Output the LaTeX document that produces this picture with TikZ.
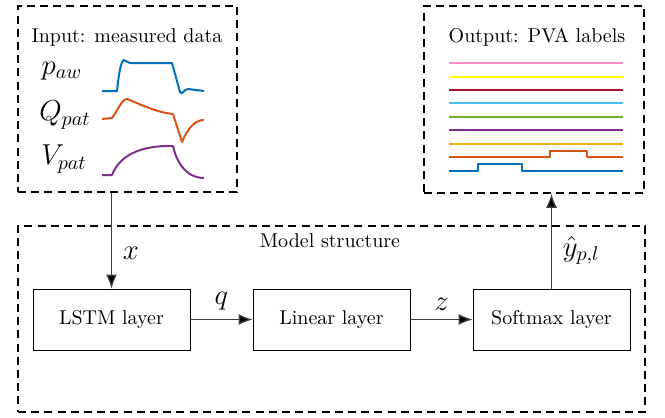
\documentclass[tikz,border=0pt]{standalone}
\usetikzlibrary{arrows.meta}
\definecolor{mblue}{RGB}{0,114,189}
\definecolor{morange}{RGB}{217,83,25}
\definecolor{myellow}{RGB}{237,177,32}
\definecolor{mpurple}{RGB}{126,47,142}
\definecolor{mgreen}{RGB}{119,172,48}
\definecolor{mcyan}{RGB}{77,190,238}
\definecolor{mred}{RGB}{162,20,47}
\definecolor{ylw}{RGB}{255,255,0}
\definecolor{mpink}{RGB}{255,140,200}
\begin{document}
\begin{tikzpicture}[x=0.5pt,y=-0.5pt,
  frame/.style={draw,thick,dash pattern=on 4pt off 2.6pt},
  layerbox/.style={draw,minimum width=78.5pt,minimum height=30.5pt,inner sep=0pt},
  flow/.style={-{Latex[length=7pt,width=5.5pt,fill=black]},line width=0.6pt,draw=black!75},
  sig/.style={line width=1pt,line join=round},
  lab/.style={font=\Large}]
\useasboundingbox (0,0) rectangle (665,418);
% frames
\node[frame,minimum width=109.5pt,minimum height=93pt,inner sep=0pt] (inbox) at (127.5,99) {};
\node[frame,minimum width=110pt,minimum height=93.5pt,inner sep=0pt] (outbox) at (534,99.5) {};
\node[frame,minimum width=313.5pt,minimum height=93pt,inner sep=0pt] (modelbox) at (331.5,319) {};
% titles
\node (intitle) at (127,37) {Input: measured data};
\node (outtitle) at (537,37) {Output: PVA labels};
\node (mtitle) at (330,241) {Model structure};
% input labels
\node[lab] (paw) at (62,71) {$p_{aw}$};
\node[lab] (qpat) at (65,115) {$Q_{pat}$};
\node[lab] (vpat) at (64,159) {$V_{pat}$};
% input signals
\draw[sig,mblue] (102,91) -- (117,91) .. controls (119,72) and (121,61) .. (124,60) .. controls (126,60) and (127,63) .. (130,63) -- (172,63) -- (180,92) .. controls (182,96) and (184,89) .. (188,89) -- (204,91);
\draw[sig,morange] (102,119) -- (112,118) .. controls (118,110) and (122,99) .. (127,99) .. controls (140,104) and (155,112) .. (173,114) -- (182,142) .. controls (188,128) and (195,120) .. (204,120);
\draw[sig,mpurple] (102,175) -- (112,175) .. controls (120,155) and (140,147) .. (165,146) -- (173,146) .. controls (176,160) and (185,178) .. (204,178);
% output lines
\draw[sig,mpink] (449,63) -- (623,63);
\draw[sig,ylw] (449,77) -- (623,77);
\draw[sig,mred] (449,90) -- (623,90);
\draw[sig,mcyan] (449,103) -- (623,103);
\draw[sig,mgreen] (449,117) -- (623,117);
\draw[sig,mpurple] (449,130) -- (623,130);
\draw[sig,myellow] (449,144) -- (623,144);
\draw[sig,morange] (449,157) -- (550,157) -- (550,151) -- (587,151) -- (587,157) -- (623,157);
\draw[sig,mblue] (449,171) -- (478,171) -- (478,164) -- (522,164) -- (522,171) -- (623,171);
% layers
\node[layerbox] (lstm) at (111.5,319.5) {LSTM layer};
\node[layerbox] (linear) at (331.5,319.5) {Linear layer};
\node[layerbox] (softmax) at (551.5,319.5) {Softmax layer};
% connectors
\draw[flow] (inbox.south -| lstm.north) -- node[lab,pos=0.63,right,xshift=2pt] {$x$} (lstm.north);
\draw[flow] (lstm) -- node[lab,above,yshift=1pt] {$q$} (linear);
\draw[flow] (linear) -- node[lab,above,yshift=1pt] {$z$} (softmax);
\draw[flow] (softmax.north) -- node[lab,pos=0.4,right,xshift=2pt] {$\hat{y}_{p,l}$} (softmax.north |- outbox.south);
\end{tikzpicture}
\end{document}
